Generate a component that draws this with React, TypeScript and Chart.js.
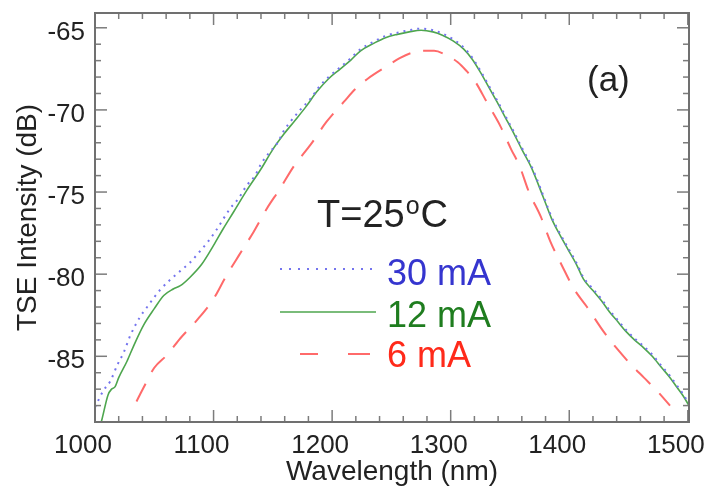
import React, { useEffect, useRef } from 'react';
import { Chart, registerables } from 'chart.js';

Chart.register(...registerables);

const FONT = "'Liberation Sans', Arial, Helvetica, sans-serif";

// Axis tick labels
const xTickValues = [1000, 1100, 1200, 1300, 1400, 1500];
const yTickValues = [-85, -80, -75, -70, -65];

// 30 mA (dotted blue)
const wl30 = [1000, 1002, 1007, 1013, 1019, 1024, 1030, 1038, 1044, 1050, 1055, 1064, 1072, 1080, 1088, 1095, 1102, 1114, 1121, 1128, 1135, 1140, 1147, 1154, 1159, 1165, 1173, 1182, 1189, 1197, 1206, 1215, 1224, 1235, 1245, 1255, 1265, 1275, 1285, 1293, 1302, 1311, 1318, 1325, 1332, 1339, 1346, 1353, 1360, 1368, 1378, 1385, 1392, 1399, 1406, 1412, 1420, 1427, 1434, 1441, 1448, 1455, 1463, 1470, 1478, 1485, 1491, 1496, 1501];
const db30 = [-88.1, -87.8, -87.1, -86.5, -85.5, -84.8, -83.7, -82.6, -82.0, -81.4, -80.95, -80.3, -79.8, -79.3, -78.65, -78.05, -77.35, -76.0, -75.4, -74.6, -74.0, -73.3, -72.6, -72.0, -71.3, -70.7, -70.0, -69.3, -68.6, -68.0, -67.45, -66.9, -66.3, -65.85, -65.5, -65.3, -65.15, -65.05, -65.15, -65.35, -65.7, -66.2, -66.8, -67.6, -68.5, -69.4, -70.35, -71.3, -72.3, -73.4, -75.2, -76.5, -77.5, -78.4, -79.3, -80.2, -80.9, -81.5, -82.2, -82.8, -83.4, -83.9, -84.4, -84.9, -85.6, -86.2, -86.8, -87.3, -87.9];

// 12 mA (solid green)
const wl12 = [1002, 1006, 1011, 1014, 1017, 1020, 1027, 1033, 1041, 1050, 1058, 1066, 1072, 1080, 1090, 1100, 1108, 1117, 1128, 1140, 1150, 1159, 1168, 1178, 1187, 1197, 1207, 1216, 1224, 1235, 1245, 1255, 1265, 1275, 1285, 1293, 1302, 1311, 1318, 1325, 1332, 1339, 1346, 1353, 1360, 1368, 1378, 1385, 1392, 1399, 1406, 1412, 1420, 1427, 1434, 1441, 1448, 1455, 1463, 1470, 1478, 1485, 1491, 1496, 1501];
const db12 = [-89.9, -88.8, -87.35, -87.0, -86.85, -86.3, -85.3, -84.3, -83.1, -82.1, -81.3, -80.9, -80.7, -80.2, -79.4, -78.25, -77.25, -76.2, -74.9, -73.6, -72.4, -71.5, -70.7, -69.8, -68.9, -68.1, -67.5, -66.95, -66.4, -65.95, -65.6, -65.4, -65.25, -65.15, -65.25, -65.45, -65.8, -66.3, -66.9, -67.7, -68.6, -69.5, -70.45, -71.4, -72.4, -73.5, -75.3, -76.6, -77.6, -78.5, -79.4, -80.3, -81.0, -81.6, -82.3, -82.9, -83.5, -84.0, -84.5, -85.0, -85.7, -86.3, -86.9, -87.4, -88.0];

// 6 mA (dashed red)
const wl6 = [1035, 1041, 1050, 1061, 1072, 1086, 1100, 1110, 1121, 1134, 1145, 1156, 1168, 1182, 1195, 1210, 1220, 1230, 1247, 1257, 1266, 1276, 1286, 1296, 1306, 1313, 1320, 1331, 1342, 1351, 1358, 1366, 1376, 1384, 1394, 1404, 1415, 1429, 1441, 1452, 1463, 1474, 1485];
const db6 = [-87.75, -86.9, -85.7, -84.9, -83.9, -82.8, -81.5, -80.2, -78.9, -77.4, -76.0, -74.8, -73.4, -72.1, -70.75, -69.5, -68.7, -68.1, -67.3, -66.85, -66.55, -66.4, -66.4, -66.65, -67.1, -67.6, -68.2, -69.6, -71.0, -72.4, -73.4, -75.0, -76.5, -78.0, -79.5, -80.9, -82.0, -83.5, -84.6, -85.5, -86.3, -87.1, -88.0];

const seriesLabels = ['30 mA', '12 mA', '6 mA'];
const lineColors = ['#7474ee', '#4ea64e', '#ff6a6a'];
const textColors = ['#3535cf', '#1f7d1f', '#ff2a1a'];

const toPoints = (xs: number[], ys: number[]) => xs.map((x, i) => ({ x, y: ys[i] }));

const decorPlugin = {
  id: 'decor',
  afterDraw(chart: any) {
    const { ctx, chartArea: a, scales } = chart;
    const x = scales.x;
    const y = scales.y;
    ctx.save();
    const seg = (x1: number, y1: number, x2: number, y2: number) => {
      ctx.beginPath();
      ctx.moveTo(x1, y1);
      ctx.lineTo(x2, y2);
      ctx.stroke();
    };
    // inward ticks on all four sides
    ctx.strokeStyle = '#7c7c7c';
    ctx.lineWidth = 1.5;
    ctx.setLineDash([]);
    for (let v = 1000; v <= 1500; v += 20) {
      const px = x.getPixelForValue(v);
      const len = v % 100 === 0 ? 12 : 6;
      seg(px, a.bottom, px, a.bottom - len);
      seg(px, a.top, px, a.top + len);
    }
    for (let v = -88; v <= -65; v += 1) {
      const py = y.getPixelForValue(v);
      const len = v % 5 === 0 ? 12 : 6;
      seg(a.left, py, a.left + len, py);
      seg(a.right, py, a.right - len, py);
    }
    // frame
    ctx.strokeStyle = '#707070';
    ctx.lineWidth = 2;
    ctx.strokeRect(a.left, a.top, a.right - a.left, a.bottom - a.top);

    // panel label
    ctx.fillStyle = '#222';
    ctx.textBaseline = 'alphabetic';
    ctx.textAlign = 'left';
    ctx.font = `35px ${FONT}`;
    ctx.fillText('(a)', 587, 91);

    // temperature label
    ctx.font = `38px ${FONT}`;
    const tPart = 'T=25';
    ctx.fillText(tPart, 317, 227);
    let tx = 317 + ctx.measureText(tPart).width;
    ctx.font = `25px ${FONT}`;
    ctx.fillText('o', tx + 1, 214);
    tx += ctx.measureText('o').width + 2;
    ctx.font = `38px ${FONT}`;
    ctx.fillText('C', tx, 227);

    // legend
    const ly = [269, 312, 354];
    const tb = [285, 327, 367];
    ctx.lineCap = 'butt';
    // 30 mA dotted
    ctx.strokeStyle = lineColors[0];
    ctx.lineWidth = 2;
    ctx.setLineDash([2, 7]);
    seg(280, ly[0], 376, ly[0]);
    // 12 mA solid
    ctx.setLineDash([]);
    ctx.strokeStyle = lineColors[1];
    ctx.lineWidth = 1.6;
    seg(280, ly[1], 376, ly[1]);
    // 6 mA dashed
    ctx.strokeStyle = lineColors[2];
    ctx.lineWidth = 2;
    seg(300, ly[2], 318, ly[2]);
    seg(348, ly[2], 370, ly[2]);

    ctx.font = `36px ${FONT}`;
    for (let i = 0; i < 3; i++) {
      ctx.fillStyle = textColors[i];
      ctx.fillText(seriesLabels[i], 387, tb[i]);
    }
    ctx.restore();
  },
};

export default function App() {
  const ref = useRef<HTMLCanvasElement | null>(null);

  useEffect(() => {
    if (!ref.current) return;
    const chart = new Chart(ref.current, {
      type: 'line',
      data: {
        datasets: [
          {
            label: seriesLabels[0],
            data: toPoints(wl30, db30),
            borderColor: lineColors[0],
            borderWidth: 2,
            borderDash: [2, 5],
            pointRadius: 0,
            cubicInterpolationMode: 'monotone',
            fill: false,
          },
          {
            label: seriesLabels[1],
            data: toPoints(wl12, db12),
            borderColor: lineColors[1],
            borderWidth: 1.6,
            pointRadius: 0,
            cubicInterpolationMode: 'monotone',
            fill: false,
          },
          {
            label: seriesLabels[2],
            data: toPoints(wl6, db6),
            borderColor: lineColors[2],
            borderWidth: 2,
            borderDash: [20, 13],
            pointRadius: 0,
            cubicInterpolationMode: 'monotone',
            fill: false,
          },
        ],
      },
      options: {
        animation: false,
        responsive: false,
        devicePixelRatio: 1,
        layout: { padding: { top: 13, right: 20, left: 0, bottom: 0 } },
        plugins: {
          legend: { display: false },
          tooltip: { enabled: false },
        },
        events: [],
        scales: {
          x: {
            type: 'linear',
            position: 'bottom',
            min: 1000,
            max: 1501,
            grid: { display: false, drawTicks: false },
            border: { display: false },
            afterBuildTicks: (s: any) => {
              s.ticks = xTickValues.map((v) => ({ value: v }));
            },
            afterFit: (s: any) => {
              s.height = 74;
              s.paddingLeft = 0;
              s.paddingRight = 0;
            },
            ticks: {
              font: { family: FONT, size: 26 },
              color: '#222',
              padding: 8,
              labelOffset: -12,
              maxRotation: 0,
              autoSkip: false,
              callback: (v: any) => String(v),
            },
            title: {
              display: true,
              text: 'Wavelength (nm)',
              font: { family: FONT, size: 28 },
              color: '#222',
              padding: { top: 0, bottom: 7 },
            },
          },
          y: {
            type: 'linear',
            position: 'left',
            min: -89,
            max: -64.1,
            grid: { display: false, drawTicks: false },
            border: { display: false },
            afterBuildTicks: (s: any) => {
              s.ticks = yTickValues.map((v) => ({ value: v }));
            },
            afterFit: (s: any) => {
              s.width = 95;
              s.paddingTop = 0;
              s.paddingBottom = 0;
            },
            ticks: {
              font: { family: FONT, size: 26 },
              color: '#222',
              padding: 10,
              labelOffset: 5,
              autoSkip: false,
              callback: (v: any) => String(v),
            },
            title: {
              display: true,
              text: 'TSE Intensity (dB)',
              font: { family: FONT, size: 28 },
              color: '#222',
              padding: { top: 11, bottom: 0 },
            },
          },
        },
      },
      plugins: [decorPlugin],
    } as any);
    return () => chart.destroy();
  }, []);

  return (
    <div style={{ position: 'absolute', left: 0, top: 0, width: 709, height: 496, background: '#fff' }}>
      <canvas ref={ref} width={709} height={496} style={{ display: 'block' }} />
    </div>
  );
}
